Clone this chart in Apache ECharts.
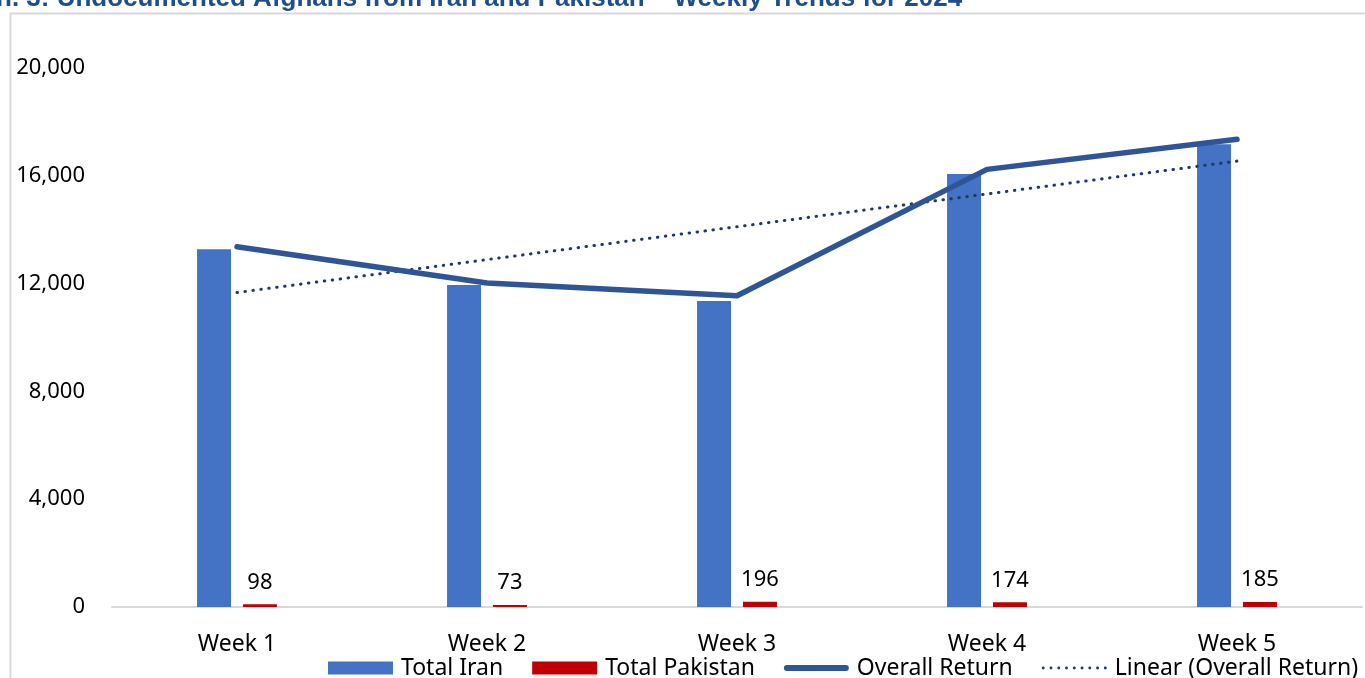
<!DOCTYPE html>
<html>
<head>
<meta charset="utf-8">
<script src="https://cdn.jsdelivr.net/npm/echarts@6/dist/echarts.min.js"></script>
<style>
html,body{margin:0;padding:0;background:#fff;}
#chart{width:1365px;height:678px;}
</style>
</head>
<body>
<div id="chart"></div>
<script>
var categories = ['Week 1', 'Week 2', 'Week 3', 'Week 4', 'Week 5'];
var totalIran = [13270, 11950, 11355, 16065, 17170];
var totalPakistan = [98, 73, 196, 174, 185];
var overallReturn = [13368, 12023, 11551, 16239, 17355];
var linearTrend = [11670, 12890, 14110, 15325, 16545];
var titleText = 'n. 3: Undocumented Afghans from Iran and Pakistan \u2013 Weekly Trends for 2024';

var FONT = '"Noto Sans", "Open Sans", sans-serif';
var solidLineIcon = 'path://M3,0 L62,0 A3,3 0 0 1 62,6 L3,6 A3,3 0 0 1 3,0 Z';
var dotPath = '';
for (var i = 0; i < 9; i++) {
  var x0 = i * 8;
  dotPath += 'M' + x0 + ',1.5 A1.5,1.5 0 1 1 ' + (x0 + 3) + ',1.5 A1.5,1.5 0 1 1 ' + x0 + ',1.5 Z ';
}
var dottedIcon = 'path://' + dotPath;

var chart = echarts.init(document.getElementById('chart'));
chart.setOption({
  animation: false,
  backgroundColor: '#ffffff',
  textStyle: { fontFamily: FONT },
  graphic: [
    {
      type: 'rect', silent: true, z: -1,
      shape: { x: 10.5, y: 13.5, width: 1400, height: 700 },
      style: { fill: 'none', stroke: '#d9d9d9', lineWidth: 2 }
    },
    {
      type: 'text', silent: true,
      x: -4, y: 12,
      style: {
        text: titleText,
        font: 'bold 26px "Liberation Sans", Arial, sans-serif',
        fill: '#1f4e8c',
        verticalAlign: 'bottom',
        align: 'left'
      }
    }
  ],
  grid: { left: 112, right: 3, top: 68, bottom: 71 },
  legend: {
    left: 323, top: 650,
    itemWidth: 65, itemHeight: 13, itemGap: 29,
    textStyle: { fontFamily: FONT, fontSize: 23, color: '#000', lineHeight: 26, padding: [0, 0, 0, 3] },
    data: [
      { name: 'Total Iran', icon: 'rect' },
      { name: 'Total Pakistan', icon: 'rect' },
      { name: 'Overall Return', icon: solidLineIcon, itemStyle: { color: '#2f5597' } },
      { name: 'Linear (Overall Return)', icon: dottedIcon, itemStyle: { color: '#203864' } }
    ]
  },
  xAxis: {
    type: 'category',
    data: categories,
    axisLine: { show: true, lineStyle: { color: '#d9d9d9', width: 2 } },
    axisTick: { show: false },
    axisLabel: { color: '#000', fontSize: 23, fontFamily: FONT, margin: 26 }
  },
  yAxis: {
    type: 'value',
    min: 0, max: 20000, interval: 4000,
    splitLine: { show: false },
    axisLine: { show: false },
    axisTick: { show: false },
    axisLabel: { color: '#000', fontSize: 22, fontFamily: FONT, margin: 27 }
  },
  series: [
    {
      name: 'Total Iran', type: 'bar', data: totalIran,
      barWidth: 34, barGap: '35%',
      itemStyle: { color: '#4472c4' }
    },
    {
      name: 'Total Pakistan', type: 'bar', data: totalPakistan,
      barWidth: 34,
      itemStyle: { color: '#c00000' },
      label: { show: true, position: 'top', distance: 11, color: '#000', fontSize: 22, fontFamily: FONT }
    },
    {
      name: 'Overall Return', type: 'line', data: overallReturn,
      symbol: 'none', z: 5,
      lineStyle: { color: '#2f5597', width: 5.5, cap: 'round', join: 'round' },
      itemStyle: { color: '#2f5597' }
    },
    {
      name: 'Linear (Overall Return)', type: 'line', data: linearTrend,
      symbol: 'none', z: 4,
      lineStyle: { color: '#203864', width: 3, type: [0.5, 7.5], cap: 'round' },
      itemStyle: { color: '#203864' }
    }
  ]
});
</script>
</body>
</html>
